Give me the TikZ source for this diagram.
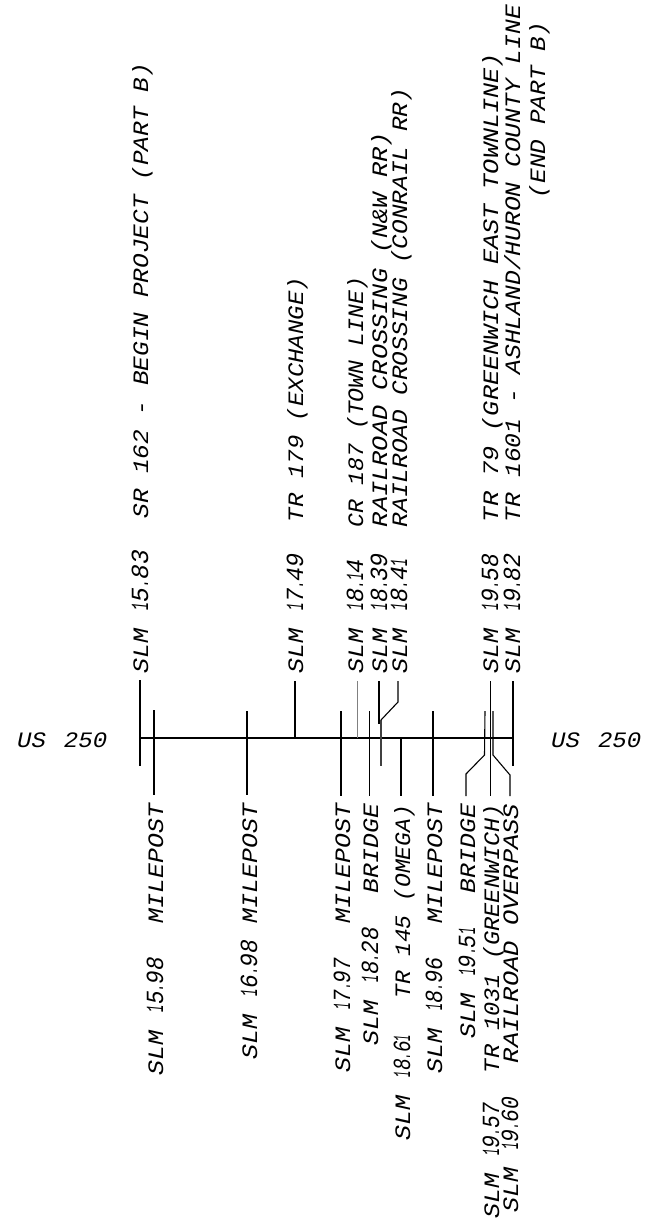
\documentclass[tikz,border=0pt]{standalone}
\usepackage{fontspec}
\setmainfont{Liberation Mono}
\newcommand{\lbl}[5]{% name, baseline x, start y, end y, text
  \pgfmathsetmacro{\lbllen}{#3-#4}
  \node[lbltext] (#1) at (#2,#3) {\resizebox{\lbllen pt}{\height}{#5}};}
\newcommand{\slm}[5]{% name, baseline x, start y, end y, mile number
  \pgfmathsetmacro{\numlen}{#3-#4-63}
  \node[lbltext] (#1) at (#2,#3) {\resizebox{45pt}{\height}{SLM}\hspace{18pt}\resizebox{\numlen pt}{1.12\height}{#5}};}
\newcommand{\nar}{\resizebox{7pt}{\height}{1}}
\newcommand{\dt}{\resizebox{7pt}{\height}{.}}
\newcommand{\tick}[5][roadline]{% style, name, x, y1, y2
  \coordinate (#2a) at (#3,#4);
  \coordinate (#2b) at (#3,#5);
  \draw[#1] (#2a) -- (#2b);}
\begin{document}
\begin{tikzpicture}[x=1pt,y=-1pt,
  lbltext/.style={rotate=90,anchor=base west,inner sep=0pt,outer sep=0pt,font=\fontsize{22}{24}\selectfont\itshape},
  roadline/.style={line width=1.1pt,black},
  thinline/.style={line width=0.7pt,black},
  greyline/.style={line width=1pt,black!50},
  thickline/.style={line width=2.6pt,black!75},
  routelabel/.style={inner sep=0pt,anchor=base west,font=\fontsize{22}{24}\selectfont\itshape}]
\useasboundingbox (0,0) rectangle (655,1232);
% main line
\coordinate (mainL) at (140,738);
\coordinate (mainR) at (513,738);
\draw[roadline,line width=1.3pt] (mainL) -- (mainR);
% ticks
\tick{p}{140}{680}{766}
\tick{q}{154}{710}{795}
\tick{r}{247}{711}{795}
\tick{s}{295}{681}{738}
\tick{t}{341}{711}{796}
\tick[greyline]{u}{357}{681}{738}
\tick{v}{369.5}{711}{796}
\tick{w}{379}{681}{724}
\tick[thickline]{x}{381}{720}{766}
\tick{y}{401}{738}{796}
\tick{z}{433}{711}{796}
\tick[thinline]{m}{490}{681}{796}
\tick{n}{513}{681}{766}
% jogged leaders
\coordinate (j1) at (398,681);
\coordinate (j2) at (398,702);
\coordinate (j3) at (381,720);
\draw[roadline] (j1) -- (j2) -- (j3);
\coordinate (k1) at (485,711);
\coordinate (k2) at (484.5,755);
\coordinate (k3) at (466,774);
\coordinate (k4) at (466,796);
\draw[roadline] (k1) -- (k2) -- (k3) -- (k4);
\coordinate (l1) at (493,711);
\coordinate (l2) at (493,755);
\coordinate (l3) at (510,775);
\coordinate (l4) at (510,796);
\draw[roadline] (l1) -- (l2) -- (l3) -- (l4);
% route labels
\node[routelabel] (usl) at (17,747) {\resizebox{90pt}{\height}{US\hspace{0.75em}250}};
\node[routelabel] (usr) at (551,747) {\resizebox{90pt}{\height}{US\hspace{0.75em}250}};
% labels below
\slm{a1}{163}{1075}{957}{\nar 5\dt 98}
\lbl{a1d}{163}{923}{804}{MILEPOST}
\slm{a2}{257}{1059}{940}{\nar 6\dt 98}
\lbl{a2d}{257}{923}{804}{MILEPOST}
\slm{a3}{350}{1072}{958}{\nar 7\dt 97}
\lbl{a3d}{350}{923}{804}{MILEPOST}
\slm{a4}{378}{1045}{927}{\nar 8\dt 28}
\lbl{a4d}{378}{893}{804}{BRIDGE}
\slm{a5}{410}{1140}{1035}{\nar 8\dt 6\nar}
\lbl{a5d}{410}{998}{805}{TR 145 (OMEGA)}
\slm{a6}{442}{1073}{957}{\nar 8\dt 96}
\lbl{a6d}{442}{923}{804}{MILEPOST}
\slm{a7}{475}{1038}{928}{\nar 9\dt 5\nar}
\lbl{a7d}{475}{893}{804}{BRIDGE}
\slm{a8}{499}{1218}{1103}{\nar 9\dt 57}
\lbl{a8d}{499}{1073}{804}{TR 1031 (GREENWICH)}
\slm{a9}{518}{1212}{1097}{\nar 9\dt 60}
\lbl{a9d}{518}{1063}{804}{RAILROAD OVERPASS}
% labels above
\slm{b1}{148}{673}{550}{\nar 5\dt 83}
\lbl{b1d}{148}{518}{63}{SR 162 - BEGIN PROJECT (PART B)}
\slm{b2}{303}{673}{553}{\nar 7\dt 49}
\lbl{b2d}{303}{522}{277}{TR 179 (EXCHANGE)}
\slm{b3}{363}{673}{559}{\nar 8\dt\nar 4}
\lbl{b3d}{363}{527}{277}{CR 187 (TOWN LINE)}
\slm{b4}{387}{673}{553}{\nar 8\dt 39}
\lbl{b4d}{387}{527}{132}{RAILROAD CROSSING (N\&W RR)}
\slm{b5}{407}{673}{559}{\nar 8\dt 4\nar}
\lbl{b5d}{407}{527}{88}{RAILROAD CROSSING (CONRAIL RR)}
\slm{b6}{498}{673}{554}{\nar 9\dt 58}
\lbl{b6d}{498}{522}{53}{TR 79 (GREENWICH EAST TOWNLINE)}
\slm{b7}{520}{673}{553}{\nar 9\dt 82}
\lbl{b7d}{520}{522}{5}{TR 1601 - ASHLAND/HURON COUNTY LINE}
\lbl{b8}{545}{198}{22}{(END PART B)}
\end{tikzpicture}
\end{document}
